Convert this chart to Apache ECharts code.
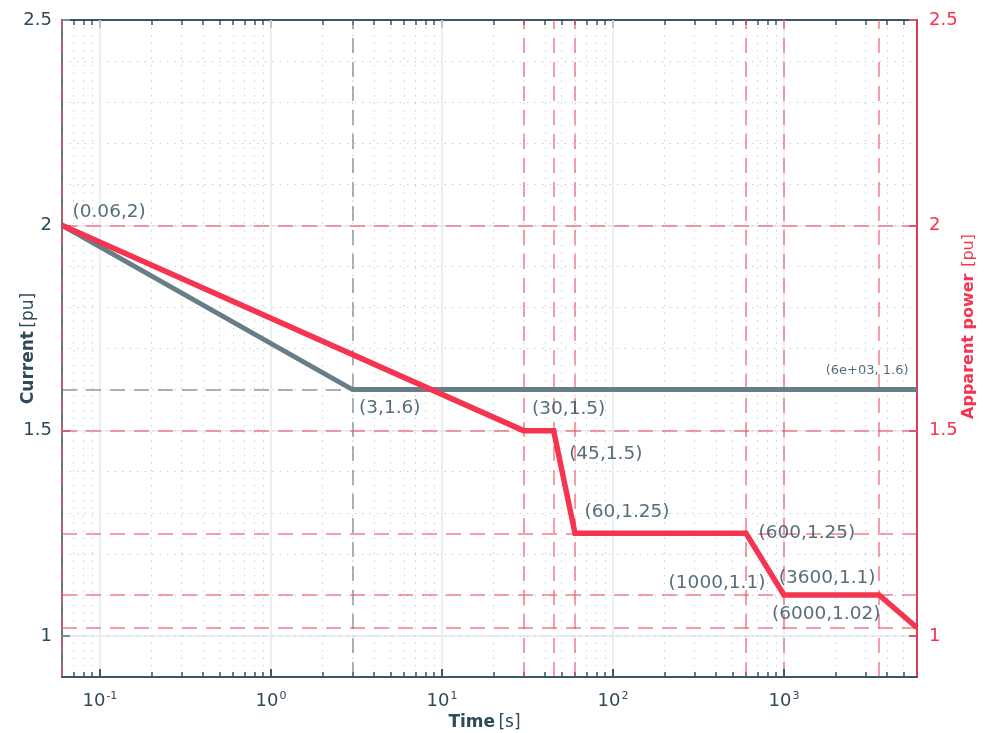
<!DOCTYPE html>
<html><head><meta charset="utf-8">
<script src="https://cdn.jsdelivr.net/npm/echarts@6/dist/echarts.min.js"></script>
<style>html,body{margin:0;padding:0;background:#fff}#c{width:994px;height:733px}</style>
</head><body><div id="c"></div>
<script>
// ---- data ----
const currentTime = [0.06, 3, 6000];
const currentPu = [2, 1.6, 1.6];
const powerTime = [0.06, 30, 45, 60, 600, 1000, 3600, 6000];
const powerPu = [2, 1.5, 1.5, 1.25, 1.25, 1.1, 1.1, 1.02];
const xMajorTicks = [0.1, 1, 10, 100, 1000];
const yTicks = [1, 1.5, 2, 2.5];
const xRange = [0.06, 6000];
const yRange = [0.9, 2.5];
const currentRefTime = [0.06, 3];
const currentRefPu = [1.6];

// ---- styling ----
const DARK = '#2c4a5a';
const GRAY = '#677d87';
const RED = '#f5344f';
const RED_DASH = 'rgba(240,80,100,0.75)';
const GRAY_DASH = 'rgba(100,122,134,0.75)';
const FONT = 'DejaVu Sans';

const xMinorTicks = [];
for (let e = -2; e <= 3; e++) {
  for (let m = 2; m <= 9; m++) {
    const v = Number((m * Math.pow(10, e)).toPrecision(6));
    if (v > xRange[0] && v < xRange[1]) xMinorTicks.push(v);
  }
}
const yMinor = [];
for (let i = 0; i <= 16; i++) yMinor.push(Number((yRange[0] + i * 0.1).toFixed(2)));

function fmtExp(v) {
  const s = v.toExponential(0);
  return s.replace(/e([+-])(\d)$/, 'e$10$2');
}
const powerLabelLayout = [['r',10,-13],['r',8,-21],['r',15,24],['r',9,-21],['r',12,0],['l',-18,-12],['l',-3,-17],['l',-36,-14]];
const currentLabelLayout = [null, ['r',6,19], ['l',-8,-19,13]];

function labelPoint(t, v, lay, text) {
  return {
    value: [t, v],
    label: {
      show: true,
      formatter: text,
      position: lay[0] === 'r' ? 'right' : 'left',
      distance: 0,
      offset: [lay[1], lay[2]],
      color: DARK,
      fontFamily: FONT,
      fontSize: lay[3] || 18.5
    }
  };
}
const labelData = [];
powerTime.forEach((t, i) => {
  labelData.push(labelPoint(t, powerPu[i], powerLabelLayout[i], '(' + t + ',' + powerPu[i] + ')'));
});
const currentLabelData = [];
currentTime.forEach((t, i) => {
  const lay = currentLabelLayout[i];
  if (!lay) return;
  const txt = i === currentTime.length - 1 ? '(' + fmtExp(t) + ', ' + currentPu[i] + ')' : '(' + t + ',' + currentPu[i] + ')';
  currentLabelData.push(labelPoint(t, currentPu[i], lay, txt));
});

const supFmt = v => {
  const e = Math.round(Math.log10(v));
  if (Math.abs(v - Math.pow(10, e)) > 1e-9 * v) return '';
  return '{b|10}{s|' + e + '}';
};

const xBase = {
  type: 'log', logBase: 10, min: xRange[0], max: xRange[1], gridIndex: 0
};
const option = {
  animation: false,
  backgroundColor: '#fff',
  grid: { left: 62, right: 77, top: 20, bottom: 56, containLabel: false, outerBoundsMode: 'none' },
  xAxis: [
    Object.assign({}, xBase, {
      position: 'bottom',
      name: '{t|Time} {u|[s]}',
      nameLocation: 'middle', nameGap: 37, nameMoveOverlap: false,
      nameTextStyle: { padding: [0, 10, 0, 0], rich: { t: { fontFamily: FONT, fontWeight: 'bold', fontSize: 17, color: DARK }, u: { fontFamily: FONT, fontSize: 17, color: DARK } } },
      axisLine: { show: true, lineStyle: { color: '#3b5766', width: 2 } },
      axisTick: { show: true, inside: true, length: 8, customValues: xMajorTicks, lineStyle: { color: '#3b5766', width: 2 } },
      axisLabel: { show: true, customValues: xMajorTicks, formatter: supFmt, margin: 14,
        rich: { b: { fontFamily: FONT, fontSize: 18, color: DARK }, s: { fontFamily: FONT, fontSize: 11, color: DARK, verticalAlign: 'top', padding: [0,0,10,1] } } },
      splitLine: { show: true, lineStyle: { color: '#e5eaed', width: 1.5 } },
      z: 1
    }),
    Object.assign({}, xBase, {
      position: 'bottom',
      axisLine: { show: false },
      axisTick: { show: true, inside: true, length: 5, customValues: xMinorTicks, lineStyle: { color: '#3b5766', width: 1.5 } },
      axisLabel: { show: false },
      splitLine: { show: true, lineStyle: { color: '#c9d1d5', width: 1, type: [1.5, 6] } }
    }),
    Object.assign({}, xBase, {
      position: 'top',
      axisLine: { show: true, lineStyle: { color: '#3b5766', width: 2 } },
      axisTick: { show: true, inside: true, length: 8, customValues: xMajorTicks, lineStyle: { color: '#3b5766', width: 2 } },
      axisLabel: { show: false },
      splitLine: { show: false }
    }),
    Object.assign({}, xBase, {
      position: 'top',
      axisLine: { show: false },
      axisTick: { show: true, inside: true, length: 5, customValues: xMinorTicks, lineStyle: { color: '#3b5766', width: 1.5 } },
      axisLabel: { show: false },
      splitLine: { show: false }
    })
  ],
  yAxis: [
    {
      type: 'value', min: yRange[0], max: yRange[1], position: 'left',
      name: '{t|Current} {u|[pu]}', nameLocation: 'middle', nameGap: 25, nameRotate: 90, nameMoveOverlap: false,
      nameTextStyle: { padding: [0, 0, 0, 0], rich: { t: { fontFamily: FONT, fontWeight: 'bold', fontSize: 17, color: DARK }, u: { fontFamily: FONT, fontSize: 17, color: DARK } } },
      axisLine: { show: true, lineStyle: { color: '#5f7784', width: 2 } },
      axisTick: { show: true, inside: true, length: 8, customValues: yTicks, lineStyle: { color: '#7c8f99', width: 2 } },
      axisLabel: { show: true, customValues: yTicks, fontFamily: FONT, fontSize: 18, color: DARK, margin: 10 },
      splitLine: { show: true, lineStyle: { color: '#e5eaed', width: 1.5 } }
    },
    {
      type: 'value', min: yRange[0], max: yRange[1], position: 'left',
      axisLine: { show: false },
      axisLabel: { show: false, customValues: yMinor },
      axisTick: { show: false, customValues: yMinor },
      splitLine: { show: true, lineStyle: { color: '#c9d1d5', width: 1, type: [1.5, 6] } }
    },
    {
      type: 'value', min: yRange[0], max: yRange[1], position: 'right',
      name: '{t|Apparent power}  {u|[pu]}', nameLocation: 'middle', nameGap: 44, nameRotate: 90, nameMoveOverlap: false,
      nameTextStyle: { padding: [0, 0, 0, 44], rich: { t: { fontFamily: FONT, fontWeight: 'bold', fontSize: 16, color: RED }, u: { fontFamily: FONT, fontSize: 16, color: RED } } },
      axisLine: { show: true, lineStyle: { color: '#d83c57', width: 2 } },
      axisTick: { show: true, inside: true, length: 8, customValues: yTicks, lineStyle: { color: '#e0506a', width: 2 } },
      axisLabel: { show: true, customValues: yTicks, fontFamily: FONT, fontSize: 18, color: RED, margin: 12 },
      splitLine: { show: false }
    }
  ],
  series: [
    {
      name: 'ref-current', type: 'line', xAxisIndex: 0, yAxisIndex: 0, data: [], silent: true,
      markLine: {
        silent: true, symbol: 'none', z: 1, label: { show: false },
        lineStyle: { color: GRAY_DASH, width: 1.5, type: [15, 9] },
        data: currentRefTime.map(t => ({ xAxis: t })).concat([
          [{ coord: [currentRefTime[0], currentRefPu[0]] }, { coord: [currentRefTime[1], currentRefPu[0]] }]
        ])
      }
    },
    {
      name: 'ref-power', type: 'line', xAxisIndex: 0, yAxisIndex: 2, data: [], silent: true,
      markLine: {
        silent: true, symbol: 'none', z: 1, label: { show: false },
        lineStyle: { color: RED_DASH, width: 1.5, type: [15, 9] },
        data: powerTime.slice(0, -1).map(t => ({ xAxis: t })).concat(
          Array.from(new Set(powerPu)).map(v => ({ yAxis: v })))
      }
    },
    {
      name: 'Current', type: 'line', xAxisIndex: 0, yAxisIndex: 0, z: 3,
      data: currentTime.map((t, i) => [t, currentPu[i]]),
      showSymbol: false, symbol: 'none',
      lineStyle: { color: GRAY, width: 5, join: 'miter' }
    },
    {
      name: 'Apparent power', type: 'line', xAxisIndex: 0, yAxisIndex: 2, z: 4,
      data: powerTime.map((t, i) => [t, powerPu[i]]),
      showSymbol: false, symbol: 'none',
      lineStyle: { color: RED, width: 5.5, join: 'miter' }
    },
    {
      name: 'labels-power', type: 'scatter', xAxisIndex: 0, yAxisIndex: 2, z: 6,
      symbolSize: 1, itemStyle: { color: 'rgba(0,0,0,0)' }, silent: true,
      data: labelData
    },
    {
      name: 'labels-current', type: 'scatter', xAxisIndex: 0, yAxisIndex: 0, z: 6,
      symbolSize: 1, itemStyle: { color: 'rgba(0,0,0,0)' }, silent: true,
      data: currentLabelData
    }
  ]
};
const chart = echarts.init(document.getElementById('c'), null, { renderer: 'canvas' });
chart.setOption(option);
</script>
</body></html>
